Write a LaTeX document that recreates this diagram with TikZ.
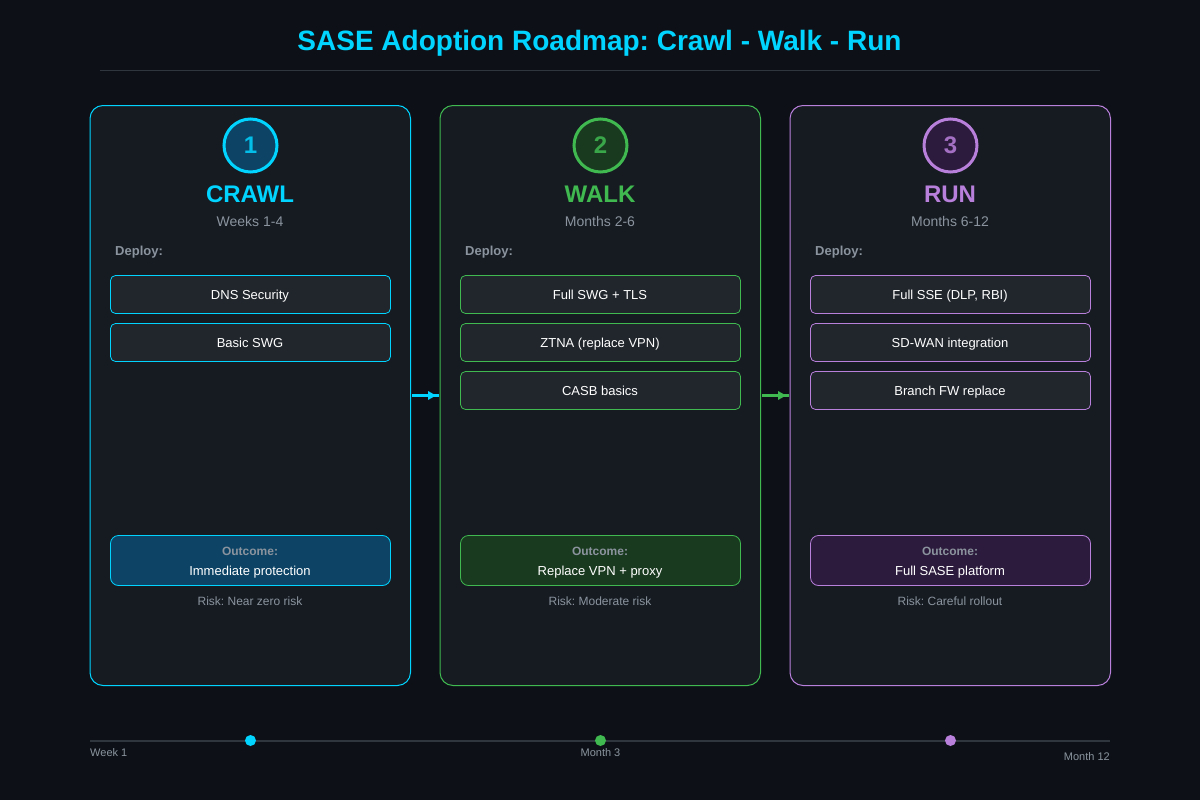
\documentclass[tikz,border=0pt]{standalone}
\usepackage{fontspec}
\setmainfont{Liberation Sans}
\usetikzlibrary{arrows.meta,calc}
\definecolor{bgc}{HTML}{0D1117}
\definecolor{panel}{HTML}{161B22}
\definecolor{itemfill}{HTML}{21262D}
\definecolor{cy}{HTML}{00D4FF}
\definecolor{gr}{HTML}{3FB950}
\definecolor{pu}{HTML}{B87FDB}
\definecolor{cyd}{HTML}{0D4466}
\definecolor{grd}{HTML}{1A3A1F}
\definecolor{pud}{HTML}{2D1B3D}
\definecolor{mut}{HTML}{8B949E}
\definecolor{rulec}{HTML}{30363D}
\newcommand{\fs}[1]{\fontsize{#1pt}{#1pt}\selectfont}
\tikzset{
  x=1pt,y=-1pt,
  panelbox/.style={draw=#1,fill=panel,line width=1pt,rounded corners=13pt},
  itembox/.style={draw=#1,fill=itemfill,line width=0.8pt,rounded corners=5pt},
  outbox/.style={draw=#1,line width=0.8pt,rounded corners=8pt},
  num/.style={circle,line width=3pt,minimum size=53pt,inner sep=0pt,font=\fs{24}\bfseries},
  lbl/.style={inner sep=0pt,anchor=base,text=#1},
  lbl/.default=white,
  flow/.style={draw=#1,line width=3pt},
  flowhead/.style={fill=#1},
  tick/.style={circle,fill=#1,minimum size=11pt,inner sep=0pt},
}
\newcommand{\phase}[9]{%
\pgfmathsetmacro{\cx}{#1+160}
\path[panelbox=#2] (#1,105.5) rectangle (#1+320.5,685.5);
\node[num,draw=#2,fill=#3,text=#2!85!#3] (n#9) at (\cx+0.5,145.5) {#4};
\node[lbl=#2,font=\fs{24}\bfseries] (t#9) at (\cx,202) {#5};
\node[lbl=mut,font=\fs{14}] (w#9) at (\cx,226) {#6};
\node[lbl=mut,font=\fs{13}\bfseries,anchor=base west] (d#9) at (#1+25,255) {Deploy:};
\path[outbox=#2,fill=#3] (#1+20.5,535.5) rectangle (#1+300.5,585.5);
\node[lbl=mut,font=\fs{12}\bfseries] (oh#9) at (\cx,555) {Outcome:};
\node[lbl,font=\fs{13}] (o#9) at (\cx,575) {#7};
\node[lbl=mut,font=\fs{12}] (r#9) at (\cx,605) {#8};
}
\newcommand{\deployitem}[4]{%
\path[itembox=#3] (#1+20.5,#2) rectangle (#1+300.5,#2+38);
\node[lbl,font=\fs{13}] at (#1+160,#2+23.5) {#4};
}
\begin{document}
\begin{tikzpicture}
\frenchspacing
\useasboundingbox (0,0) rectangle (1200,800);
\fill[bgc] (0,0) rectangle (1200,800);
\node[lbl=cy,font=\fs{28}\bfseries] (title) at (599.5,51) {SASE Adoption Roadmap: Crawl - Walk - Run};
\draw[rulec,line width=1pt] (100,70.5) -- (1100,70.5);
\phase{90}{cy}{cyd}{1}{CRAWL}{Weeks 1-4}{Immediate protection}{Risk: Near zero risk}{a}
\deployitem{90}{275.5}{cy}{DNS Security}
\deployitem{90}{323.5}{cy}{Basic SWG}
\phase{440}{gr}{grd}{2}{WALK}{Months 2-6}{Replace VPN + proxy}{Risk: Moderate risk}{b}
\deployitem{440}{275.5}{gr}{Full SWG + TLS}
\deployitem{440}{323.5}{gr}{ZTNA (replace VPN)}
\deployitem{440}{371.5}{gr}{CASB basics}
\phase{790}{pu}{pud}{3}{RUN}{Months 6-12}{Full SASE platform}{Risk: Careful rollout}{c}
\deployitem{790}{275.5}{pu}{Full SSE (DLP, RBI)}
\deployitem{790}{323.5}{pu}{SD-WAN integration}
\deployitem{790}{371.5}{pu}{Branch FW replace}
\coordinate (f1a) at (412,395.5); \coordinate (f1b) at (439,395.5);
\coordinate (f2a) at (762,395.5); \coordinate (f2b) at (789,395.5);
\draw[flow=cy] (f1a) -- (f1b);
\fill[flowhead=cy] ($(f1a)+(16,-4.5)$) -- ($(f1a)+(24,0)$) -- ($(f1a)+(16,4.5)$) -- cycle;
\draw[flow=gr] (f2a) -- (f2b);
\fill[flowhead=gr] ($(f2a)+(16,-4.5)$) -- ($(f2a)+(24,0)$) -- ($(f2a)+(16,4.5)$) -- cycle;
\coordinate (tl) at (90,740.5); \coordinate (tr) at (1110,740.5);
\draw[rulec,line width=2pt] (tl) -- (tr);
\node[tick=cy] (m1) at (250.5,740.5) {};
\node[tick=gr] (m2) at (600.5,740.5) {};
\node[tick=pu] (m3) at (950.5,740.5) {};
\node[lbl=mut,font=\fs{11},anchor=base west] (wk) at (90,756) {Week 1};
\node[lbl=mut,font=\fs{11}] (mo) at (600.5,756) {Month 3};
\node[lbl=mut,font=\fs{11},anchor=base east] (my) at (1110,760) {Month 12};
\end{tikzpicture}
\end{document}
